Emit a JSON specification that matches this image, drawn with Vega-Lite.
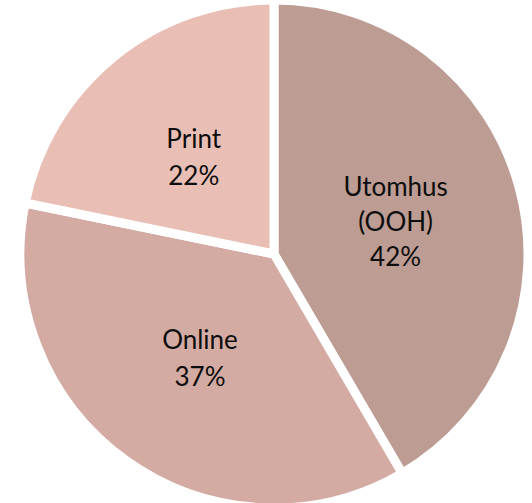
{
  "$schema": "https://vega.github.io/schema/vega-lite/v6.json",
  "width": 516,
  "height": 498,
  "autosize": "none",
  "padding": {"left": 16, "top": 5, "right": 0, "bottom": 0},
  "background": "white",
  "view": {"stroke": null},
  "data": {
    "values": [
      {"category": "Utomhus (OOH)", "label": "Utomhus\n(OOH)\n42%", "value": 42, "order": 1, "lines": 3},
      {"category": "Online", "label": "Online\n37%", "value": 37, "order": 2, "lines": 2},
      {"category": "Print", "label": "Print\n22%", "value": 22, "order": 3, "lines": 2}
    ]
  },
  "encoding": {
    "theta": {"field": "value", "type": "quantitative", "stack": true},
    "order": {"field": "order", "type": "quantitative"}
  },
  "layer": [
    {
      "mark": {"type": "arc", "outerRadius": 254, "stroke": "white", "strokeWidth": 9, "strokeJoin": "miter"},
      "encoding": {
        "color": {
          "field": "category",
          "type": "nominal",
          "scale": {"domain": ["Utomhus (OOH)", "Online", "Print"], "range": ["#bc9c93", "#d4aba3", "#e9bfb5"]},
          "legend": null
        }
      }
    },
    {
      "mark": {"type": "text", "radius": 127, "dy": -16, "fontSize": 26, "font": "Lato", "color": "#0d0d0d", "lineBreak": "\n", "lineHeight": 37, "align": "center", "baseline": "middle"},
      "encoding": {
        "text": {"condition": {"test": "datum.lines == 2", "field": "label"}, "value": ""}
      }
    },
    {
      "mark": {"type": "text", "radius": 126, "dy": -33, "fontSize": 26, "font": "Lato", "color": "#0d0d0d", "lineBreak": "\n", "lineHeight": 35, "align": "center", "baseline": "middle"},
      "encoding": {
        "text": {"condition": {"test": "datum.lines == 3", "field": "label"}, "value": ""}
      }
    }
  ]
}
